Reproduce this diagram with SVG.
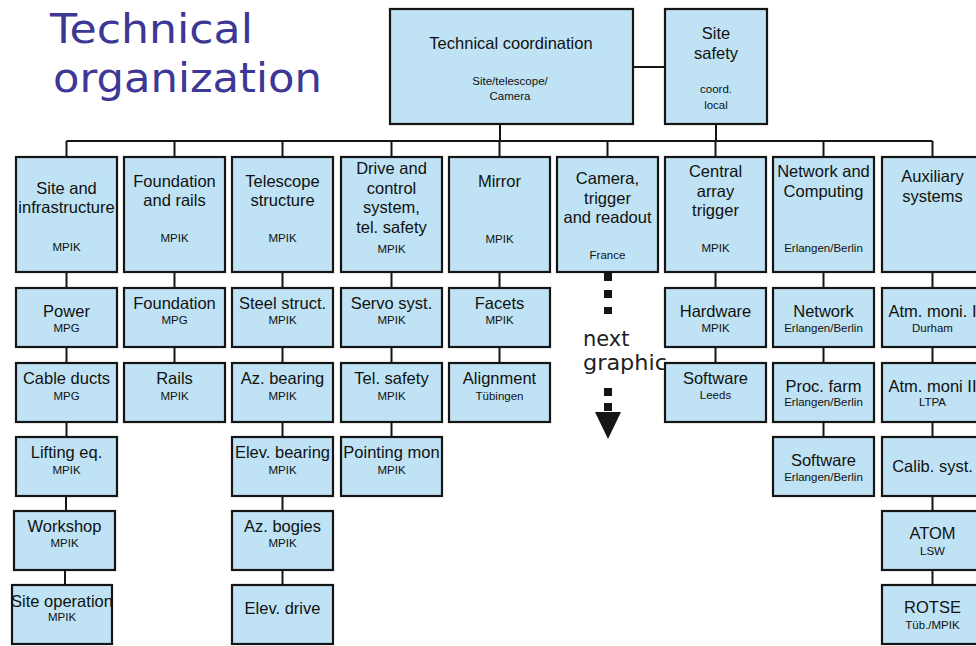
<svg xmlns="http://www.w3.org/2000/svg" width="976" height="646" viewBox="0 0 976 646">
  <style>
    .box { fill: #bfe3f4; stroke: #151515; stroke-width: 2.2; }
    .conn { stroke: #151515; stroke-width: 2; fill: none; }
    .t { font-family: "Liberation Sans", Arial, sans-serif; font-size: 16.5px; fill: #111; text-anchor: middle; }
    .s { font-size: 11.5px; }
    .title { font-family: "DejaVu Sans", Verdana, sans-serif; font-size: 41px; fill: #3d3796; }
    .note { font-family: "DejaVu Sans", Verdana, sans-serif; font-size: 21px; fill: #1e1e1e; }
  </style>

  <rect width="976" height="646" fill="#ffffff"/>

  <!-- Title -->
  <g id="title">
    <text class="title" x="50" y="43" textLength="203" lengthAdjust="spacingAndGlyphs">Technical</text>
    <text class="title" x="53" y="92" textLength="269" lengthAdjust="spacingAndGlyphs">organization</text>
  </g>

  <!-- Connectors -->
  <g id="connectors" class="conn">
    <!-- top level -->
    <line x1="633" y1="67" x2="665" y2="67"/>
    <line x1="500" y1="124" x2="500" y2="141"/>
    <line x1="716" y1="124" x2="716" y2="141"/>
    <line x1="66.5" y1="141" x2="932.5" y2="141"/>
    <!-- drops to the nine groups -->
    <line x1="66.5" y1="141" x2="66.5" y2="157"/>
    <line x1="174.5" y1="141" x2="174.5" y2="157"/>
    <line x1="282.5" y1="141" x2="282.5" y2="157"/>
    <line x1="391.5" y1="141" x2="391.5" y2="157"/>
    <line x1="499.5" y1="141" x2="499.5" y2="157"/>
    <line x1="607.5" y1="141" x2="607.5" y2="157"/>
    <line x1="715.5" y1="141" x2="715.5" y2="157"/>
    <line x1="823.5" y1="141" x2="823.5" y2="157"/>
    <line x1="932.5" y1="141" x2="932.5" y2="157"/>
    <!-- column 1 -->
    <line x1="66.5" y1="272" x2="66.5" y2="288"/>
    <line x1="66.5" y1="347" x2="66.5" y2="363"/>
    <line x1="66.5" y1="422" x2="66.5" y2="437"/>
    <line x1="66" y1="496" x2="66" y2="511"/>
    <line x1="65" y1="570" x2="65" y2="585"/>
    <!-- column 2 -->
    <line x1="174.5" y1="272" x2="174.5" y2="288"/>
    <line x1="174.5" y1="347" x2="174.5" y2="363"/>
    <!-- column 3 -->
    <line x1="282.5" y1="272" x2="282.5" y2="288"/>
    <line x1="282.5" y1="347" x2="282.5" y2="363"/>
    <line x1="282.5" y1="422" x2="282.5" y2="437"/>
    <line x1="282.5" y1="496" x2="282.5" y2="511"/>
    <line x1="282.5" y1="570" x2="282.5" y2="585"/>
    <!-- column 4 -->
    <line x1="391.5" y1="272" x2="391.5" y2="288"/>
    <line x1="391.5" y1="347" x2="391.5" y2="363"/>
    <line x1="391.5" y1="422" x2="391.5" y2="437"/>
    <!-- column 5 -->
    <line x1="499.5" y1="272" x2="499.5" y2="288"/>
    <line x1="499.5" y1="347" x2="499.5" y2="363"/>
    <!-- column 7 -->
    <line x1="715.5" y1="272" x2="715.5" y2="288"/>
    <line x1="715.5" y1="347" x2="715.5" y2="363"/>
    <!-- column 8 -->
    <line x1="823.5" y1="272" x2="823.5" y2="288"/>
    <line x1="823.5" y1="347" x2="823.5" y2="363"/>
    <line x1="823.5" y1="422" x2="823.5" y2="437"/>
    <!-- column 9 -->
    <line x1="932.5" y1="272" x2="932.5" y2="288"/>
    <line x1="932.5" y1="347" x2="932.5" y2="363"/>
    <line x1="932.5" y1="422" x2="932.5" y2="437"/>
    <line x1="932.5" y1="496" x2="932.5" y2="511"/>
    <line x1="932.5" y1="570" x2="932.5" y2="585"/>
    <!-- dotted pointer below the camera group -->
    <line x1="608" y1="273" x2="608" y2="314" stroke-width="8" stroke-dasharray="8 9"/>
    <line x1="608" y1="388" x2="608" y2="413" stroke-width="8" stroke-dasharray="8 7"/>
    <polygon points="595,412 621,412 608,439" fill="#151515" stroke="none"/>
  </g>

  <text class="note" x="583" y="346">next</text>
  <text class="note" x="583" y="370" textLength="84" lengthAdjust="spacingAndGlyphs">graphic</text>

  <!-- Top level -->
  <g id="technical-coordination">
    <rect class="box" x="390" y="9" width="243" height="115"/>
    <text class="t" x="511" y="49">Technical coordination</text>
    <text class="t s" x="510" y="85">Site/telescope/</text>
    <text class="t s" x="510" y="100">Camera</text>
  </g>
  <g id="site-safety">
    <rect class="box" x="665" y="9" width="102" height="115"/>
    <text class="t" x="716" y="39">Site</text>
    <text class="t" x="716" y="59">safety</text>
    <text class="t s" x="716" y="93">coord.</text>
    <text class="t s" x="716" y="109">local</text>
  </g>

  <!-- Column 1: site and infrastructure -->
  <g id="site-infrastructure">
    <rect class="box" x="16" y="157" width="101" height="115"/>
    <text class="t" x="66.5" y="194">Site and</text>
    <text class="t" x="66.5" y="213">infrastructure</text>
    <text class="t s" x="66.5" y="251">MPIK</text>
  </g>
  <g id="power">
    <rect class="box" x="16" y="288" width="101" height="59"/>
    <text class="t" x="66.5" y="317">Power</text>
    <text class="t s" x="66.5" y="332">MPG</text>
  </g>
  <g id="cable-ducts">
    <rect class="box" x="16" y="363" width="101" height="59"/>
    <text class="t" x="66.5" y="384">Cable ducts</text>
    <text class="t s" x="66.5" y="400">MPG</text>
  </g>
  <g id="lifting-eq">
    <rect class="box" x="16" y="437" width="101" height="59"/>
    <text class="t" x="66.5" y="457.5">Lifting eq.</text>
    <text class="t s" x="66.5" y="474">MPIK</text>
  </g>
  <g id="workshop">
    <rect class="box" x="14" y="511" width="101" height="59"/>
    <text class="t" x="64.5" y="532">Workshop</text>
    <text class="t s" x="64.5" y="547">MPIK</text>
  </g>
  <g id="site-operation">
    <rect class="box" x="12" y="585" width="100" height="59"/>
    <text class="t" x="62" y="607">Site operation</text>
    <text class="t s" x="62" y="621">MPIK</text>
  </g>

  <!-- Column 2: foundation and rails -->
  <g id="foundation-rails">
    <rect class="box" x="124" y="157" width="101" height="115"/>
    <text class="t" x="174.5" y="187">Foundation</text>
    <text class="t" x="174.5" y="206">and rails</text>
    <text class="t s" x="174.5" y="242">MPIK</text>
  </g>
  <g id="foundation">
    <rect class="box" x="124" y="288" width="101" height="59"/>
    <text class="t" x="174.5" y="309">Foundation</text>
    <text class="t s" x="174.5" y="324">MPG</text>
  </g>
  <g id="rails">
    <rect class="box" x="124" y="363" width="101" height="59"/>
    <text class="t" x="174.5" y="384">Rails</text>
    <text class="t s" x="174.5" y="400">MPIK</text>
  </g>

  <!-- Column 3: telescope structure -->
  <g id="telescope-structure">
    <rect class="box" x="232" y="157" width="101" height="115"/>
    <text class="t" x="282.5" y="187">Telescope</text>
    <text class="t" x="282.5" y="206">structure</text>
    <text class="t s" x="282.5" y="242">MPIK</text>
  </g>
  <g id="steel-struct">
    <rect class="box" x="232" y="288" width="101" height="59"/>
    <text class="t" x="282.5" y="309">Steel struct.</text>
    <text class="t s" x="282.5" y="324">MPIK</text>
  </g>
  <g id="az-bearing">
    <rect class="box" x="232" y="363" width="101" height="59"/>
    <text class="t" x="282.5" y="384">Az. bearing</text>
    <text class="t s" x="282.5" y="400">MPIK</text>
  </g>
  <g id="elev-bearing">
    <rect class="box" x="232" y="437" width="101" height="59"/>
    <text class="t" x="282.5" y="457.5">Elev. bearing</text>
    <text class="t s" x="282.5" y="474">MPIK</text>
  </g>
  <g id="az-bogies">
    <rect class="box" x="232" y="511" width="101" height="59"/>
    <text class="t" x="282.5" y="532">Az. bogies</text>
    <text class="t s" x="282.5" y="547">MPIK</text>
  </g>
  <g id="elev-drive">
    <rect class="box" x="232" y="585" width="101" height="59"/>
    <text class="t" x="282.5" y="613.5">Elev. drive</text>
  </g>

  <!-- Column 4: drive and control -->
  <g id="drive-control">
    <rect class="box" x="341" y="157" width="101" height="115"/>
    <text class="t" x="391.5" y="174">Drive and</text>
    <text class="t" x="391.5" y="193.5">control</text>
    <text class="t" x="391.5" y="213">system,</text>
    <text class="t" x="391.5" y="232.5">tel. safety</text>
    <text class="t s" x="391.5" y="253">MPIK</text>
  </g>
  <g id="servo-syst">
    <rect class="box" x="341" y="288" width="101" height="59"/>
    <text class="t" x="391.5" y="309">Servo syst.</text>
    <text class="t s" x="391.5" y="324">MPIK</text>
  </g>
  <g id="tel-safety">
    <rect class="box" x="341" y="363" width="101" height="59"/>
    <text class="t" x="391.5" y="384">Tel. safety</text>
    <text class="t s" x="391.5" y="400">MPIK</text>
  </g>
  <g id="pointing-mon">
    <rect class="box" x="341" y="437" width="101" height="59"/>
    <text class="t" x="391.5" y="457.5">Pointing mon</text>
    <text class="t s" x="391.5" y="474">MPIK</text>
  </g>

  <!-- Column 5: mirror -->
  <g id="mirror">
    <rect class="box" x="449" y="157" width="101" height="115"/>
    <text class="t" x="499.5" y="187">Mirror</text>
    <text class="t s" x="499.5" y="243">MPIK</text>
  </g>
  <g id="facets">
    <rect class="box" x="449" y="288" width="101" height="59"/>
    <text class="t" x="499.5" y="309">Facets</text>
    <text class="t s" x="499.5" y="324">MPIK</text>
  </g>
  <g id="alignment">
    <rect class="box" x="449" y="363" width="101" height="59"/>
    <text class="t" x="499.5" y="384">Alignment</text>
    <text class="t s" x="499.5" y="400">Tübingen</text>
  </g>

  <!-- Column 6: camera -->
  <g id="camera-trigger-readout">
    <rect class="box" x="557" y="157" width="101" height="115"/>
    <text class="t" x="607.5" y="184">Camera,</text>
    <text class="t" x="607.5" y="203.5">trigger</text>
    <text class="t" x="607.5" y="223">and readout</text>
    <text class="t s" x="607.5" y="259">France</text>
  </g>

  <!-- Column 7: central array trigger -->
  <g id="central-array-trigger">
    <rect class="box" x="665" y="157" width="101" height="115"/>
    <text class="t" x="715.5" y="177">Central</text>
    <text class="t" x="715.5" y="196.5">array</text>
    <text class="t" x="715.5" y="216">trigger</text>
    <text class="t s" x="715.5" y="252">MPIK</text>
  </g>
  <g id="hardware">
    <rect class="box" x="665" y="288" width="101" height="59"/>
    <text class="t" x="715.5" y="317">Hardware</text>
    <text class="t s" x="715.5" y="332">MPIK</text>
  </g>
  <g id="software-trigger">
    <rect class="box" x="665" y="363" width="101" height="59"/>
    <text class="t" x="715.5" y="383.5">Software</text>
    <text class="t s" x="715.5" y="399">Leeds</text>
  </g>

  <!-- Column 8: network and computing -->
  <g id="network-computing">
    <rect class="box" x="773" y="157" width="101" height="115"/>
    <text class="t" x="823.5" y="177">Network and</text>
    <text class="t" x="823.5" y="196.5">Computing</text>
    <text class="t s" x="823.5" y="252">Erlangen/Berlin</text>
  </g>
  <g id="network">
    <rect class="box" x="773" y="288" width="101" height="59"/>
    <text class="t" x="823.5" y="317">Network</text>
    <text class="t s" x="823.5" y="332">Erlangen/Berlin</text>
  </g>
  <g id="proc-farm">
    <rect class="box" x="773" y="363" width="101" height="59"/>
    <text class="t" x="823.5" y="392">Proc. farm</text>
    <text class="t s" x="823.5" y="406">Erlangen/Berlin</text>
  </g>
  <g id="software-computing">
    <rect class="box" x="773" y="437" width="101" height="59"/>
    <text class="t" x="823.5" y="465.5">Software</text>
    <text class="t s" x="823.5" y="481">Erlangen/Berlin</text>
  </g>

  <!-- Column 9: auxiliary systems -->
  <g id="auxiliary-systems">
    <rect class="box" x="882" y="157" width="101" height="115"/>
    <text class="t" x="932.5" y="182">Auxiliary</text>
    <text class="t" x="932.5" y="201.5">systems</text>
  </g>
  <g id="atm-moni-1">
    <rect class="box" x="882" y="288" width="101" height="59"/>
    <text class="t" x="932.5" y="317">Atm. moni. I</text>
    <text class="t s" x="932.5" y="332">Durham</text>
  </g>
  <g id="atm-moni-2">
    <rect class="box" x="882" y="363" width="101" height="59"/>
    <text class="t" x="932.5" y="392">Atm. moni II</text>
    <text class="t s" x="932.5" y="406">LTPA</text>
  </g>
  <g id="calib-syst">
    <rect class="box" x="882" y="437" width="101" height="59"/>
    <text class="t" x="932.5" y="472">Calib. syst.</text>
  </g>
  <g id="atom">
    <rect class="box" x="882" y="511" width="101" height="59"/>
    <text class="t" x="932.5" y="538.5">ATOM</text>
    <text class="t s" x="932.5" y="555">LSW</text>
  </g>
  <g id="rotse">
    <rect class="box" x="882" y="585" width="101" height="59"/>
    <text class="t" x="932.5" y="612.5">ROTSE</text>
    <text class="t s" x="932.5" y="629">Tüb./MPIK</text>
  </g>
</svg>
